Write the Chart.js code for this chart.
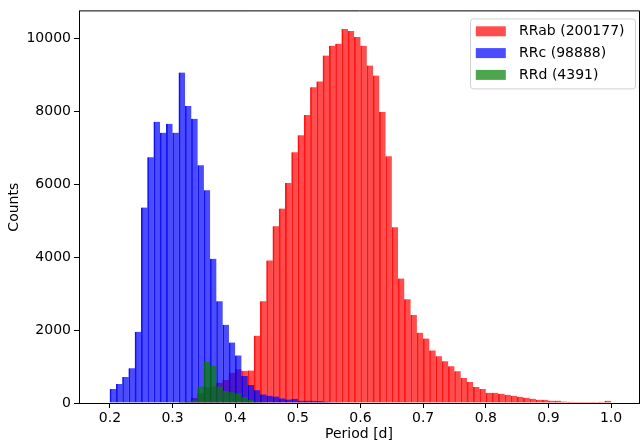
<!DOCTYPE html>
<html>
<head>
<meta charset="utf-8">
<script src="https://cdn.jsdelivr.net/npm/chart.js@4/dist/chart.umd.min.js"></script>
<style>
  html, body { margin: 0; padding: 0; background: #ffffff; }
  #wrap { width: 641px; height: 445px; }
</style>
</head>
<body>
<div id="wrap"><canvas id="c" width="641" height="445"></canvas></div>
<script>
// Period histograms, bins of 0.01 d starting at the given left edge
const binWidth = 0.01;

const rrabStart = 0.31;
const rrabCounts = [
  10, 40, 140, 270, 430, 455, 557, 630, 828, 927,
  883, 890, 1846, 2793, 3910, 4847, 5334, 6037, 6874, 7340,
  7900, 8660, 8820, 9530, 9800, 9850, 10260, 10200, 10040, 9800,
  9253, 8983, 7983, 6767, 4820, 3415, 2847, 2415, 1928, 1766,
  1442, 1279, 1144, 1009, 874, 685, 577, 441, 387, 279,
  279, 252, 225, 198, 171, 144, 117, 90, 90, 63,
  63, 40, 35, 30, 30, 30, 30, 35, 60
];

const rrcStart = 0.20;
const rrcCounts = [
  387, 523, 712, 955, 1955, 5361, 6739, 7713, 7415, 7659,
  7415, 9064, 8145, 7794, 6523, 5838, 3955, 2793, 2143, 1658,
  1306, 739, 495, 350, 235, 200, 175, 126, 95, 115,
  65, 63, 60, 55, 36, 20, 6
];

const rrdStart = 0.30;
const rrdCounts = [
  15, 25, 35, 70, 455, 1130, 1021, 455, 330, 295,
  270, 165, 85, 30, 10
];

const seriesNames = ['RRab', 'RRc', 'RRd'];
const seriesColors = ['rgba(255,0,0,0.7)', 'rgba(0,0,255,0.7)', 'rgba(0,128,0,0.7)'];
const seriesEdges = ['rgba(255,0,0,0.9)', 'rgba(0,0,230,0.9)', 'rgba(0,100,0,0.85)'];

const xTicks = [0.2, 0.3, 0.4, 0.5, 0.6, 0.7, 0.8, 0.9, 1.0];
const yTicks = [0, 2000, 4000, 6000, 8000, 10000];
const xRange = [0.1506, 1.0446];
const yRange = [0, 10740];

const FONT = 'DejaVu Sans';

// bin centres, rounded so identical centres from different series coincide exactly
function toPoints(start, counts) {
  return counts.map((c, i) => ({ x: Math.round((start + (i + 0.5) * binWidth) * 10000) / 10000, y: c }));
}
const total = arr => arr.reduce((a, b) => a + b, 0);

const allCounts = [rrabCounts, rrcCounts, rrdCounts];
const allStarts = [rrabStart, rrcStart, rrdStart];

const datasets = seriesNames.map((name, k) => ({
  label: name + ' (' + total(allCounts[k]) + ')',
  data: toPoints(allStarts[k], allCounts[k]),
  backgroundColor: seriesColors[k],
  borderColor: seriesEdges[k],
  borderWidth: { top: 0, right: 0, bottom: 0, left: 1 },
  borderSkipped: false,
  order: 3 - k
}));

// spines on top/right plus the boxed legend in the upper right corner
const framePlugin = {
  id: 'frameAndLegend',
  afterDraw(chart) {
    const ctx = chart.ctx;
    const ca = chart.chartArea;
    ctx.save();
    ctx.strokeStyle = '#000';
    ctx.lineWidth = 1;
    ctx.beginPath();
    ctx.moveTo(ca.left, ca.top - 0.5);
    ctx.lineTo(ca.right + 0.5, ca.top - 0.5);
    ctx.lineTo(ca.right + 0.5, ca.bottom);
    ctx.stroke();

    const boxW = 165, boxH = 70;
    const boxL = ca.right - 3.5 - boxW;
    const boxT = ca.top + 7.5;
    const r = 3;
    ctx.beginPath();
    ctx.moveTo(boxL + r, boxT);
    ctx.lineTo(boxL + boxW - r, boxT);
    ctx.arcTo(boxL + boxW, boxT, boxL + boxW, boxT + r, r);
    ctx.lineTo(boxL + boxW, boxT + boxH - r);
    ctx.arcTo(boxL + boxW, boxT + boxH, boxL + boxW - r, boxT + boxH, r);
    ctx.lineTo(boxL + r, boxT + boxH);
    ctx.arcTo(boxL, boxT + boxH, boxL, boxT + boxH - r, r);
    ctx.lineTo(boxL, boxT + r);
    ctx.arcTo(boxL, boxT, boxL + r, boxT, r);
    ctx.closePath();
    ctx.fillStyle = 'rgba(255,255,255,0.8)';
    ctx.fill();
    ctx.strokeStyle = 'rgba(204,204,204,0.9)';
    ctx.stroke();

    ctx.font = '14px "' + FONT + '"';
    ctx.textBaseline = 'middle';
    ctx.textAlign = 'left';
    chart.data.datasets.forEach((ds, i) => {
      const cy = boxT + 12.4 + i * 21.8;
      ctx.fillStyle = ds.backgroundColor;
      ctx.fillRect(boxL + 5.3, cy - 5, 30, 10);
      ctx.fillStyle = '#000';
      ctx.fillText(ds.label, boxL + 48.6, cy);
    });
    ctx.restore();
  }
};

new Chart(document.getElementById('c'), {
  type: 'bar',
  data: { datasets },
  plugins: [framePlugin],
  options: {
    responsive: false,
    animation: false,
    devicePixelRatio: 1,
    layout: { padding: { top: 6, right: 2, left: 0, bottom: 0 } },
    plugins: { legend: { display: false }, tooltip: { enabled: false } },
    datasets: { bar: { grouped: false, barPercentage: 1, categoryPercentage: 1 } },
    scales: {
      x: {
        type: 'linear',
        min: xRange[0],
        max: xRange[1],
        offset: false,
        afterBuildTicks: s => { s.ticks = xTicks.map(v => ({ value: v })); },
        afterFit: s => { s.height = 42; },
        grid: { display: true, drawOnChartArea: false, drawTicks: true, tickLength: 5, tickColor: '#000', tickWidth: 1, offset: false },
        border: { display: true, color: '#000', width: 1 },
        ticks: {
          color: '#000', padding: 2, maxRotation: 0, autoSkip: false,
          font: { family: FONT, size: 14 },
          callback: v => Number(v).toFixed(1)
        },
        title: {
          display: true, text: 'Period [d]', color: '#000',
          font: { family: FONT, size: 14 }, padding: { top: 0, bottom: 2.6 }
        }
      },
      y: {
        type: 'linear',
        min: yRange[0],
        max: yRange[1],
        afterBuildTicks: s => { s.ticks = yTicks.map(v => ({ value: v })); },
        afterFit: s => { s.width = 79; },
        grid: { display: true, drawOnChartArea: false, drawTicks: true, tickLength: 5, tickColor: '#000', tickWidth: 1 },
        border: { display: true, color: '#000', width: 1 },
        ticks: {
          color: '#000', padding: 3,
          font: { family: FONT, size: 14 },
          callback: v => String(v)
        },
        title: {
          display: true, text: 'Counts', color: '#000',
          font: { family: FONT, size: 14 }, padding: { top: 5.6, bottom: 0 }
        }
      }
    }
  }
});
</script>
</body>
</html>
